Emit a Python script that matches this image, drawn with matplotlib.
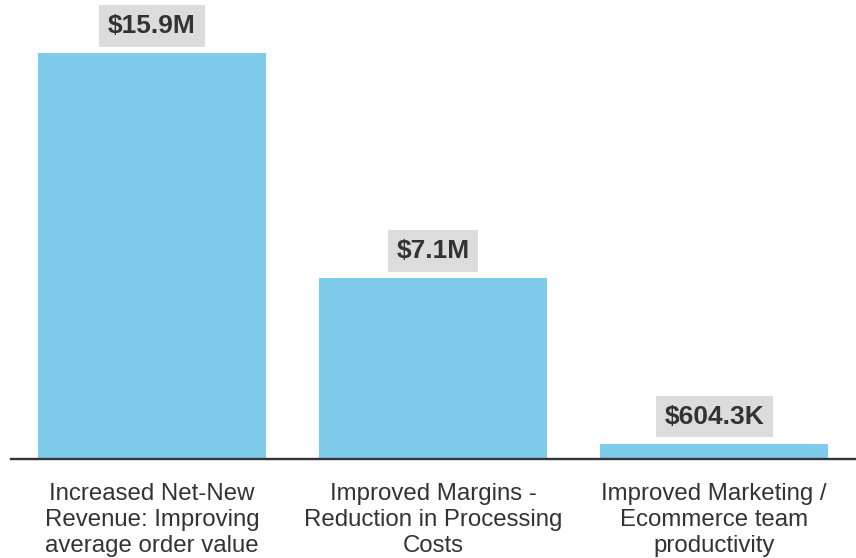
import matplotlib.pyplot as plt

plt.rcParams['font.family'] = ['Liberation Sans', 'DejaVu Sans']

categories = [
    "Increased Net-New\nRevenue: Improving\naverage order value",
    "Improved Margins -\nReduction in Processing\nCosts",
    "Improved Marketing /\nEcommerce team\nproductivity",
]
values_m = [15.9, 7.1, 0.6043]
value_labels = ["$15.9M", "$7.1M", "$604.3K"]

bar_color = "#7fcbec"
text_color = "#333333"
box_color = "#dcdcdc"

fig = plt.figure(figsize=(8.56, 5.58), dpi=100)
W, H = 856, 558
ax = fig.add_axes([11 / W, (H - 459) / H, 845 / W, 459 / H])

x = range(len(categories))
bars = ax.bar(x, values_m, width=0.81, color=bar_color, zorder=2)

ax.set_xlim(-0.502, 2.505)
ax.set_ylim(0, 459 / (406 / 15.9))

for spine in ["top", "right", "left"]:
    ax.spines[spine].set_visible(False)
ax.spines["bottom"].set_color(text_color)
ax.spines["bottom"].set_linewidth(1.7)
ax.spines["bottom"].set_zorder(3)

ax.set_yticks([])
ax.set_xticks(list(x))
ax.set_xticklabels(categories, fontsize=17.3, color=text_color, linespacing=1.26)
ax.tick_params(axis="x", length=0, pad=17)

for rect, lab in zip(bars, value_labels):
    ax.annotate(
        lab,
        xy=(rect.get_x() + rect.get_width() / 2, rect.get_height()),
        xytext=(0, 19.3),
        textcoords="offset points",
        ha="center",
        va="center",
        fontsize=19,
        fontweight="bold",
        color=text_color,
        bbox=dict(boxstyle="square,pad=0.33", facecolor=box_color, edgecolor="none"),
    )

fig.savefig("out.png", dpi=100)
